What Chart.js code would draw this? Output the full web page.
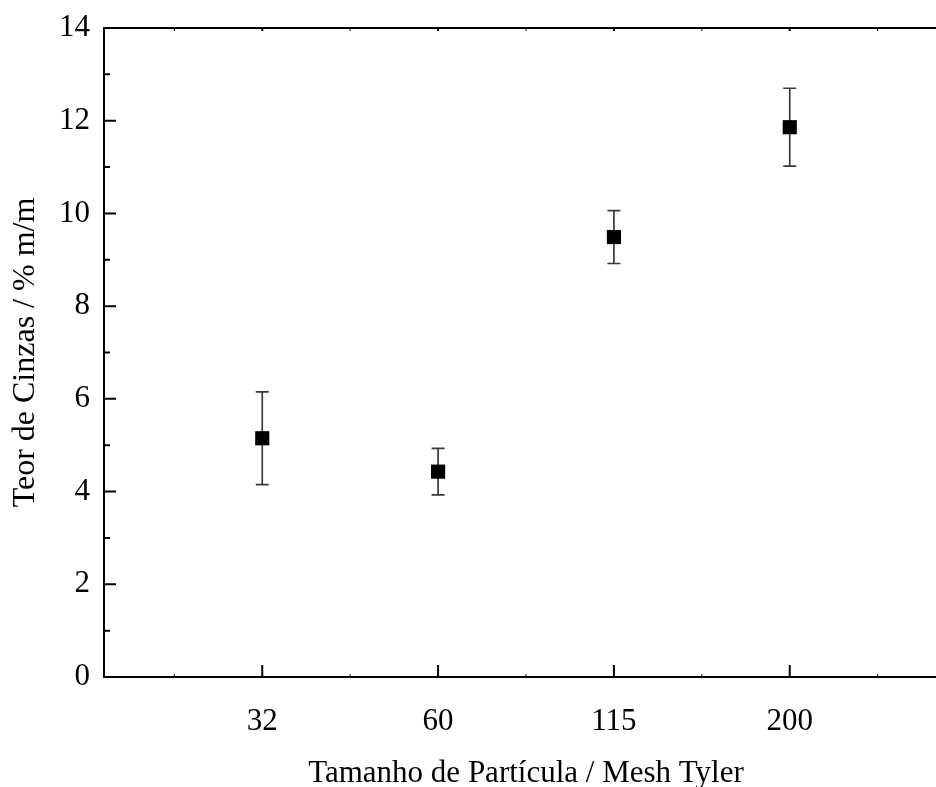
<!DOCTYPE html>
<html>
<head>
<meta charset="utf-8">
<script src="https://cdn.jsdelivr.net/npm/chart.js@4.4.0/dist/chart.umd.min.js"></script>
<style>
  html, body { margin: 0; padding: 0; background: #fff; overflow: hidden; }
  #wrap { width: 950px; height: 787px; }
</style>
</head>
<body>
<div id="wrap"><canvas id="ashChart" width="950" height="787"></canvas></div>
<script>
// Mesh sizes (categories) and measured ash content
const meshLabels = ['32', '60', '115', '200'];
const ashValues = [5.15, 4.43, 9.49, 11.86];
const ashErrors = [1.0, 0.5, 0.57, 0.84];
const yTicks = [0, 2, 4, 6, 8, 10, 12, 14];

const points = ashValues.map((v, i) => ({ x: i, y: v }));

// error bars drawn from the scales, under the markers
const errorBars = {
    id: 'errorBars',
    beforeDatasetsDraw(chart) {
        const ctx = chart.ctx;
        const xs = chart.scales.x, ys = chart.scales.y;
        ctx.save();
        ctx.strokeStyle = '#3a3a3a';
        ctx.lineWidth = 1.7;
        ashValues.forEach((v, i) => {
            const px = xs.getPixelForValue(i);
            const top = ys.getPixelForValue(v + ashErrors[i]);
            const bot = ys.getPixelForValue(v - ashErrors[i]);
            ctx.beginPath();
            ctx.moveTo(px, top); ctx.lineTo(px, bot);
            ctx.moveTo(px - 6.5, top); ctx.lineTo(px + 6.5, top);
            ctx.moveTo(px - 6.5, bot); ctx.lineTo(px + 6.5, bot);
            ctx.stroke();
        });
        ctx.restore();
    }
};

// inward ticks (major + minor) and the top frame line
const frameTicks = {
    id: 'frameTicks',
    afterDraw(chart) {
        const ctx = chart.ctx;
        const a = chart.chartArea;
        const xs = chart.scales.x, ys = chart.scales.y;
        ctx.save();
        ctx.strokeStyle = '#000';
        ctx.lineWidth = 2;
        ctx.beginPath();
        ctx.moveTo(a.left - 1, a.top); ctx.lineTo(a.right, a.top);
        ctx.stroke();
        ctx.beginPath();
        for (let v = 0; v <= 14; v++) {
            const py = ys.getPixelForValue(v);
            const len = v % 2 === 0 ? 12 : 6;
            ctx.moveTo(a.left, py); ctx.lineTo(a.left + len, py);
        }
        meshLabels.forEach((l, i) => {
            const px = xs.getPixelForValue(i);
            ctx.moveTo(px, a.bottom); ctx.lineTo(px, a.bottom - 12);
            ctx.moveTo(px, a.top); ctx.lineTo(px, a.top + 3);
        });
        ctx.stroke();
        ctx.lineWidth = 1;
        ctx.beginPath();
        for (let i = -0.5; i < meshLabels.length; i++) {
            const px = xs.getPixelForValue(i);
            ctx.moveTo(px, a.bottom); ctx.lineTo(px, a.bottom - 3);
            ctx.moveTo(px, a.top); ctx.lineTo(px, a.top + 3);
        }
        ctx.stroke();
        ctx.restore();
    }
};

const serif = 'Liberation Serif';

new Chart(document.getElementById('ashChart'), {
    type: 'scatter',
    data: {
        datasets: [{
            label: 'Teor de Cinzas',
            data: points,
            pointStyle: 'rect',
            pointRadius: 10,
            pointHoverRadius: 10,
            backgroundColor: '#000',
            borderWidth: 0
        }]
    },
    options: {
        responsive: false,
        animation: false,
        layout: { autoPadding: false, padding: { top: 28, right: 2, left: 0, bottom: 0 } },
        plugins: {
            legend: { display: false },
            tooltip: { enabled: false }
        },
        scales: {
            x: {
                type: 'linear',
                min: -0.9,
                max: 3.9,
                afterBuildTicks: (s) => { s.ticks = meshLabels.map((l, i) => ({ value: i })); },
                afterFit: (s) => { s.height = 110; s.paddingLeft = 0; s.paddingRight = 0; },
                grid: { display: false, drawTicks: false },
                border: { display: true, color: '#000', width: 2 },
                ticks: {
                    padding: 26,
                    color: '#000',
                    font: { family: serif, size: 31 },
                    callback: (v) => meshLabels[v]
                },
                title: {
                    display: true,
                    text: 'Tamanho de Partícula / Mesh Tyler',
                    color: '#000',
                    font: { family: serif, size: 31 },
                    padding: { top: 0, bottom: -5 }
                }
            },
            y: {
                min: 0,
                max: 14,
                afterBuildTicks: (s) => { s.ticks = yTicks.map(v => ({ value: v })); },
                afterFit: (s) => { s.width = 104; s.paddingTop = 0; s.paddingBottom = 0; },
                grid: { display: false, drawTicks: false },
                border: { display: true, color: '#000', width: 2 },
                ticks: {
                    padding: 14,
                    color: '#000',
                    font: { family: serif, size: 31 }
                },
                title: {
                    display: true,
                    text: 'Teor de Cinzas / % m/m',
                    color: '#000',
                    font: { family: serif, size: 32 },
                    padding: { top: 6, bottom: 0 }
                }
            }
        }
    },
    plugins: [errorBars, frameTicks]
});
</script>
</body>
</html>
